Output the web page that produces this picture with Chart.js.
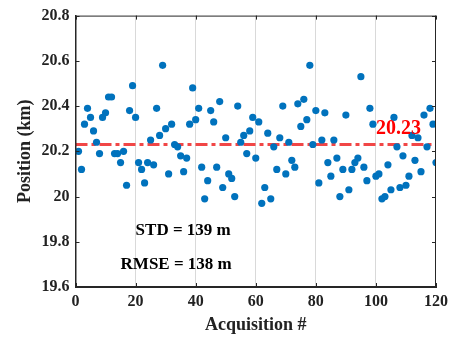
<!DOCTYPE html>
<html>
<head>
<meta charset="utf-8">
<script src="https://cdn.jsdelivr.net/npm/chart.js@4/dist/chart.umd.min.js"></script>
<style>
  html, body { margin: 0; padding: 0; background: #fff; }
  #c { display: block; }
</style>
</head>
<body>
<canvas id="c" width="453" height="337"></canvas>
<script>
// ---- data ----
const acquisitions = Array.from({length: 120}, (_, i) => i + 1);
const positions = [
  20.20, 20.12, 20.32, 20.39, 20.35, 20.29, 20.24, 20.19, 20.35, 20.37,
  20.44, 20.44, 20.19, 20.19, 20.15, 20.20, 20.05, 20.38, 20.49, 20.35,
  20.15, 20.12, 20.06, 20.15, 20.25, 20.14, 20.39, 20.27, 20.58, 20.30,
  20.10, 20.32, 20.23, 20.22, 20.18, 20.11, 20.17, 20.32, 20.48, 20.34,
  20.39, 20.13, 19.99, 20.07, 20.38, 20.33, 20.13, 20.42, 20.04, 20.26,
  20.10, 20.08, 20.00, 20.40, 20.24, 20.27, 20.19, 20.29, 20.35, 20.17,
  20.33, 19.97, 20.04, 20.28, 19.99, 20.22, 20.12, 20.26, 20.40, 20.10,
  20.24, 20.16, 20.13, 20.41, 20.31, 20.43, 20.34, 20.58, 20.23, 20.38,
  20.06, 20.25, 20.37, 20.15, 20.09, 20.25, 20.17, 20.00, 20.12, 20.36,
  20.03, 20.12, 20.15, 20.17, 20.53, 20.13, 20.07, 20.39, 20.32, 20.09,
  20.10, 19.99, 20.00, 20.14, 20.03, 20.35, 20.22, 20.04, 20.18, 20.05,
  20.09, 20.27, 20.16, 20.26, 20.11, 20.36, 20.22, 20.39, 20.32, 20.15
];
const meanValue = 20.23;
const meanLineX = [0, 120];
const xTicks = [0, 20, 40, 60, 80, 100, 120];
const yTicks = [19.6, 19.8, 20, 20.2, 20.4, 20.6, 20.8];
const meanLabel = { text: '20.23', x: 100, y: 20.30 };
const statLabels = [
  { text: 'STD = 139 m', x: 20, y: 19.85 },
  { text: 'RMSE = 138 m', x: 15, y: 19.70 }
];

// ---- styles ----
const FONT = "'Liberation Serif', 'Times New Roman', serif";
const AXIS_COLOR = '#262626';

const framePlugin = {
  id: 'frame',
  afterDatasetsDraw(chart) {
    const ctx = chart.ctx;
    const xs = chart.scales.x, ys = chart.scales.y;
    ctx.save();
    // annotations
    ctx.textBaseline = 'middle';
    ctx.textAlign = 'left';
    ctx.fillStyle = '#FF0000';
    ctx.font = 'bold 20px ' + FONT;
    ctx.fillText(meanLabel.text, xs.getPixelForValue(meanLabel.x), ys.getPixelForValue(meanLabel.y));
    ctx.fillStyle = '#000';
    ctx.font = 'bold 17px ' + FONT;
    statLabels.forEach(s => ctx.fillText(s.text, xs.getPixelForValue(s.x), ys.getPixelForValue(s.y)));
    ctx.restore();
  },
  afterDraw(chart) {
    const ctx = chart.ctx;
    const a = chart.chartArea;
    const xs = chart.scales.x, ys = chart.scales.y;
    const tl = 4;
    ctx.save();
    ctx.strokeStyle = AXIS_COLOR;
    ctx.lineWidth = 1;
    ctx.beginPath();
    ctx.moveTo(a.left, a.top + 0.5); ctx.lineTo(a.right, a.top + 0.5);
    ctx.moveTo(a.right - 0.5, a.top); ctx.lineTo(a.right - 0.5, a.bottom);
    ctx.moveTo(a.left + 0.5, a.top); ctx.lineTo(a.left + 0.5, a.bottom);
    ctx.moveTo(a.left, a.bottom - 0.5); ctx.lineTo(a.right, a.bottom - 0.5);
    xTicks.forEach(v => {
      const px = Math.round(xs.getPixelForValue(v)) + 0.5;
      ctx.moveTo(px, a.bottom); ctx.lineTo(px, a.bottom - tl);
      ctx.moveTo(px, a.top); ctx.lineTo(px, a.top + tl);
    });
    yTicks.forEach(v => {
      const py = Math.round(ys.getPixelForValue(v)) + 0.5;
      ctx.moveTo(a.left, py); ctx.lineTo(a.left + tl, py);
      ctx.moveTo(a.right, py); ctx.lineTo(a.right - tl, py);
    });
    ctx.stroke();
    ctx.restore();
  }
};

new Chart(document.getElementById('c'), {
  type: 'scatter',
  data: {
    datasets: [
      {
        type: 'scatter',
        data: acquisitions.map((x, i) => ({ x, y: positions[i] })),
        backgroundColor: '#0072BD',
        borderWidth: 0,
        pointRadius: 3.6,
        order: 0
      },
      {
        type: 'line',
        data: meanLineX.map(x => ({ x, y: meanValue })),
        borderColor: 'rgba(240, 60, 60, 0.95)',
        borderWidth: 3,
        borderDash: [12, 4, 4, 4],
        pointRadius: 0,
        fill: false,
        order: 1
      }
    ]
  },
  options: {
    responsive: false,
    animation: false,
    devicePixelRatio: 1,
    layout: { padding: { top: 11.5, right: 16.3, left: 0, bottom: 0 } },
    plugins: { legend: { display: false }, tooltip: { enabled: false } },
    scales: {
      x: {
        type: 'linear',
        min: 0, max: 120,
        afterFit: s => { s.height = 50; },
        afterBuildTicks: s => { s.ticks = xTicks.map(v => ({ value: v })); },
        ticks: {
          font: { family: FONT, size: 16, weight: 'bold' },
          color: '#222',
          padding: 5,
          maxRotation: 0
        },
        grid: {
          drawTicks: false,
          color: c => (c.tick && (c.tick.value === 0 || c.tick.value === 120)) ? 'rgba(0,0,0,0)' : '#d9d9d9',
          lineWidth: 1
        },
        border: { display: true, color: AXIS_COLOR, width: 1 },
        title: {
          display: true,
          text: 'Acquisition #',
          font: { family: FONT, size: 18, weight: 'bold' },
          color: '#222',
          padding: { top: 0, bottom: 1 }
        }
      },
      y: {
        type: 'linear',
        min: 19.6, max: 20.8,
        afterFit: s => { s.width = 75.5; },
        afterBuildTicks: s => { s.ticks = yTicks.map(v => ({ value: v })); },
        ticks: {
          font: { family: FONT, size: 16, weight: 'bold' },
          color: '#222',
          padding: 6,
          callback: v => String(Number(v.toFixed(1)))
        },
        grid: { display: false, drawTicks: false },
        border: { display: true, color: AXIS_COLOR, width: 1 },
        title: {
          display: true,
          text: 'Position (km)',
          font: { family: FONT, size: 18, weight: 'bold' },
          color: '#222',
          padding: { top: 15, bottom: 0 }
        }
      }
    }
  },
  plugins: [framePlugin]
});
</script>
</body>
</html>
